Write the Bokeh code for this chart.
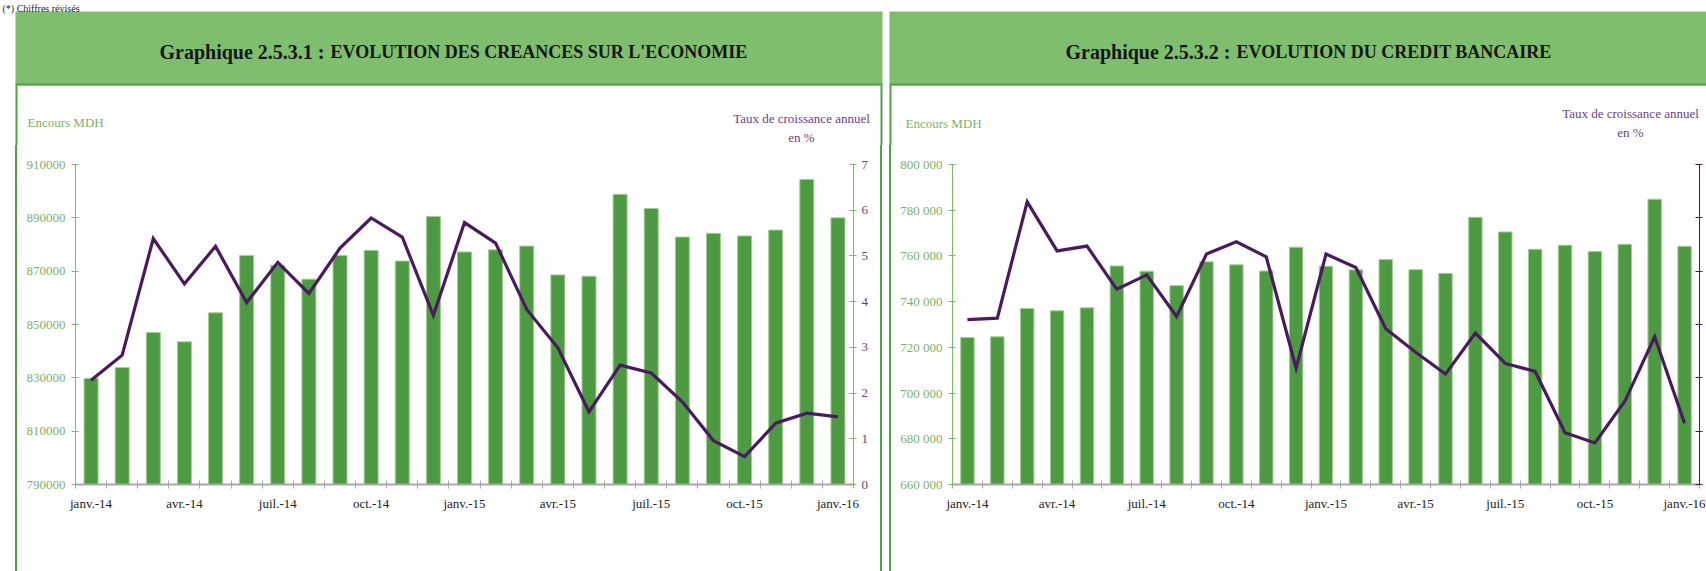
from bokeh.plotting import figure
from bokeh.models import Range1d, LinearAxis, FixedTicker, Div, Spacer
from bokeh.layouts import row, column
from bokeh.core.properties import value
from bokeh.embed import file_html
from bokeh.resources import INLINE

# ---------------- data ----------------
months = ["janv.-14", "févr.-14", "mars-14", "avr.-14", "mai-14", "juin-14",
          "juil.-14", "août-14", "sept.-14", "oct.-14", "nov.-14", "déc.-14",
          "janv.-15", "févr.-15", "mars-15", "avr.-15", "mai-15", "juin-15",
          "juil.-15", "août-15", "sept.-15", "oct.-15", "nov.-15", "déc.-15",
          "janv.-16"]
xtick_labels = ["janv.-14", "avr.-14", "juil.-14", "oct.-14", "janv.-15",
                "avr.-15", "juil.-15", "oct.-15", "janv.-16"]

creances_encours = [829800, 833900, 847000, 843500, 854400, 875900, 872200,
                    867000, 875900, 877800, 873800, 890500, 877200, 878000,
                    879400, 868600, 868100, 898800, 893500, 882800, 884200,
                    883200, 885400, 904400, 890000]
creances_taux = [2.28, 2.83, 5.38, 4.39, 5.21, 3.98, 4.86, 4.18, 5.17, 5.83,
                 5.41, 3.70, 5.73, 5.28, 3.83, 2.99, 1.59, 2.61, 2.44, 1.81,
                 0.96, 0.61, 1.34, 1.56, 1.48]
credit_encours = [724300, 724600, 737000, 736000, 737300, 755600, 753300,
                  747000, 757400, 756100, 753400, 763800, 755500, 753900,
                  758400, 754000, 752400, 776900, 770500, 762900, 764700,
                  761900, 765100, 784800, 764200]
credit_taux = [3.09, 3.12, 5.30, 4.38, 4.47, 3.66, 3.93, 3.15, 4.32, 4.55,
               4.27, 2.18, 4.32, 4.07, 2.92, 2.48, 2.07, 2.84, 2.27, 2.12,
               0.97, 0.78, 1.56, 2.77, 1.15]

creances_left_ticks = [790000, 810000, 830000, 850000, 870000, 890000, 910000]
creances_right_ticks = [0, 1, 2, 3, 4, 5, 6, 7]
credit_left_ticks = [660000, 680000, 700000, 720000, 740000, 760000, 780000, 800000]
credit_right_ticks = [0, 1, 2, 3, 4, 5, 6]

note = "(*) Chiffres révisés"
title1 = ("Graphique 2.5.3.1 :", "EVOLUTION DES CREANCES SUR L'ECONOMIE")
title2 = ("Graphique 2.5.3.2 :", "EVOLUTION DU CREDIT BANCAIRE")
left_label = "Encours MDH"
right_label = ("Taux de croissance annuel", "en %")

# ---------------- styles ----------------
FONT = "Liberation Serif"
BAR = "#4E9A42"
BAR_EDGE = "#A3CF95"
LINE = "#4A1A5E"
TXT_GREEN = "#78B467"
TXT_PURPLE = "#6A3F80"
AX_GREEN = "#7DB86C"
HEADER = "#7FBD6F"
BORDER = "#55A046"
GRAY = "#A8A8A8"

W, H = 1706, 571
TOP_H = 145

# ---------------- top band (headers + captions), pixel space ----------------
top = figure(width=W, height=TOP_H, x_range=Range1d(0, W), y_range=Range1d(TOP_H, 0),
             output_backend="svg", toolbar_location=None, min_border=0,
             min_border_left=0, min_border_right=0, min_border_top=0,
             min_border_bottom=0, outline_line_color=None, margin=(0, 0, 0, 0))
top.axis.visible = False
top.xgrid.visible = False
top.ygrid.visible = False

# header boxes
top.quad(left=[15, 889], right=[882, W], top=[11, 11], bottom=[85, 85],
         fill_color=HEADER, line_color=None)
top.quad(left=[15, 889], right=[882, W], top=[83, 83], bottom=[85, 85],
         fill_color=BORDER, line_color=None)
# box side borders below the headers
top.quad(left=[15, 880, 889], right=[17, 882, 891], top=[85, 85, 85],
         bottom=[TOP_H, TOP_H, TOP_H], fill_color=BORDER, line_color=None)

# titles
top.text(x=[324, 1230], y=[51, 51], text=[title1[0], title2[0]],
         text_font=value(FONT), text_font_size="20px", text_font_style="bold",
         text_color="#151515", text_align="right", text_baseline="alphabetic")
top.text(x=[330, 1236], y=[51, 51], text=[title1[1], title2[1]],
         text_font=value(FONT), text_font_size="18px", text_font_style="bold",
         text_color="#151515", text_align="left", text_baseline="alphabetic")

# note at the very top
top.text(x=[2], y=[8], text=[note], text_font=value(FONT), text_font_size="10px",
         text_color="#222222", text_align="left", text_baseline="alphabetic")

# axis captions
top.text(x=[27, 905], y=[122, 123], text=[left_label, left_label],
         text_font=value(FONT), text_font_size="13px", text_color=TXT_GREEN,
         text_align="left", text_baseline="middle")
top.text(x=[801, 1630], y=[118, 113], text=[right_label[0], right_label[0]],
         text_font=value(FONT), text_font_size="13px", text_color=TXT_PURPLE,
         text_align="center", text_baseline="middle")
top.text(x=[801, 1630], y=[137, 132], text=[right_label[1], right_label[1]],
         text_font=value(FONT), text_font_size="13px", text_color=TXT_PURPLE,
         text_align="center", text_baseline="middle")

BODY_H = H - TOP_H


def vline(h, w=2):
    return Div(text=f'<div style="width:{w}px;height:{h}px;background:{BORDER}"></div>',
               width=w, height=h, margin=(0, 0, 0, 0))


def chart(encours, taux, lticks, rticks, w, borders, sep_thousands,
          right_axis_color, show_right_labels):
    x = list(range(len(months)))
    p = figure(width=w, height=BODY_H, output_backend="svg", toolbar_location=None,
               x_range=Range1d(-0.5, len(months) - 0.5),
               y_range=Range1d(lticks[0], lticks[-1]),
               min_border_left=borders[0], min_border_right=borders[1],
               min_border_top=borders[2], min_border_bottom=borders[3],
               outline_line_color=None, margin=(0, 0, 0, 0))
    p.extra_y_ranges = {"taux": Range1d(rticks[0], rticks[-1])}
    p.xgrid.visible = False
    p.ygrid.visible = False

    p.vbar(x=x, top=encours, bottom=lticks[0], width=0.45,
           fill_color=BAR, line_color=BAR_EDGE, line_width=1)
    p.line(x=x, y=taux, y_range_name="taux", line_color=LINE, line_width=3.2,
           line_join="miter")

    # x axis
    xa = p.xaxis[0]
    label_pos = [months.index(m) for m in xtick_labels]
    xa.ticker = FixedTicker(ticks=label_pos,
                            minor_ticks=[i - 0.5 for i in range(len(months) + 1)])
    xa.major_label_overrides = {i: m for i, m in zip(label_pos, xtick_labels)}
    xa.major_tick_line_color = None
    xa.major_tick_out = 4
    xa.major_tick_in = 0
    xa.minor_tick_line_color = GRAY
    xa.minor_tick_in = 4
    xa.minor_tick_out = 4
    xa.axis_line_color = GRAY
    xa.axis_line_width = 2
    xa.major_label_standoff = 7
    xa.major_label_text_font = FONT
    xa.major_label_text_font_size = "13px"
    xa.major_label_text_color = "#222222"

    # left axis
    ya = p.yaxis[0]
    ya.ticker = FixedTicker(ticks=lticks)
    if sep_thousands:
        ya.major_label_overrides = {v: f"{v:,}".replace(",", " ") for v in lticks}
    else:
        ya.major_label_overrides = {v: str(v) for v in lticks}
    ya.minor_tick_line_color = None
    ya.major_tick_in = 3
    ya.major_tick_out = 4
    ya.major_tick_line_color = AX_GREEN
    ya.axis_line_color = AX_GREEN
    ya.major_label_standoff = 6
    ya.major_label_text_font = FONT
    ya.major_label_text_font_size = "13px"
    ya.major_label_text_color = TXT_GREEN

    # right axis
    ra = LinearAxis(y_range_name="taux", ticker=FixedTicker(ticks=rticks))
    ra.minor_tick_line_color = None
    ra.axis_line_color = right_axis_color
    ra.major_tick_line_color = right_axis_color
    ra.major_tick_in = 4
    ra.major_tick_out = 3
    ra.major_label_text_font = FONT
    ra.major_label_text_font_size = "13px"
    ra.major_label_text_color = TXT_PURPLE
    if show_right_labels:
        ra.major_label_standoff = 5
        ra.major_label_overrides = {v: str(v) for v in rticks}
    else:
        ra.major_label_standoff = 0
        ra.major_label_overrides = {v: "" for v in rticks}
    p.add_layout(ra, "right")
    return p


p1 = chart(creances_encours, creances_taux, creances_left_ticks,
           creances_right_ticks, 863, (58, 27, 18, 87), False, AX_GREEN, True)
p2 = chart(credit_encours, credit_taux, credit_left_ticks,
           credit_right_ticks, 815, (61, 7, 19, 86), True, LINE, False)

body = row(Spacer(width=15, height=BODY_H, margin=(0, 0, 0, 0)),
           vline(BODY_H), p1, vline(BODY_H),
           Spacer(width=7, height=BODY_H, margin=(0, 0, 0, 0)),
           vline(BODY_H), p2, margin=(0, 0, 0, 0))
layout = column(top, body, margin=(0, 0, 0, 0))

open("out.html", "w").write(file_html(layout, INLINE))
